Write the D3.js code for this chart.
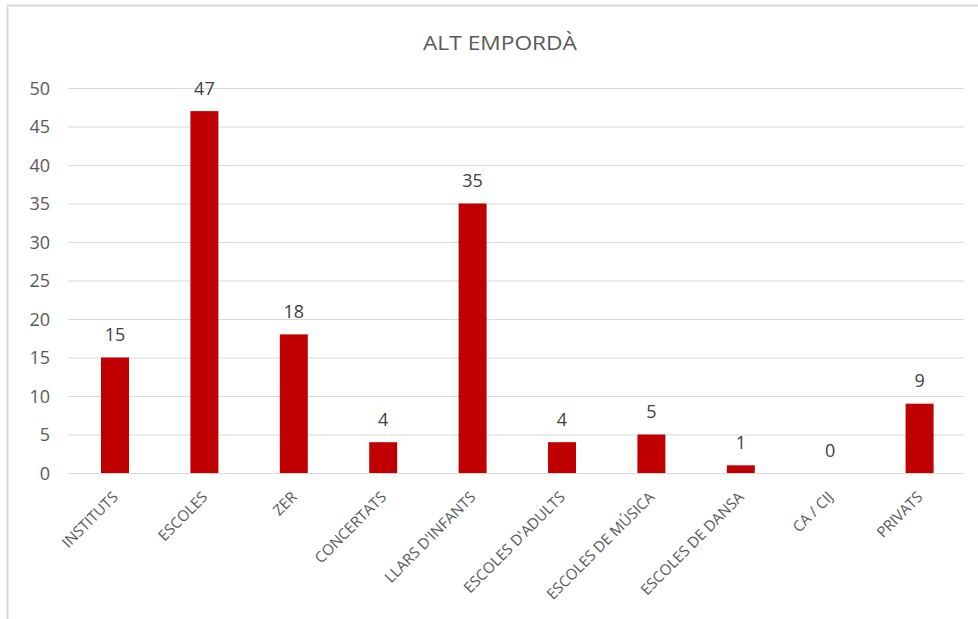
<!DOCTYPE html>
<html><head><meta charset="utf-8">
<script src="https://cdn.jsdelivr.net/npm/d3@7"></script>
<style>html,body{margin:0;padding:0;background:#fff;}svg{display:block;}</style>
</head><body>
<script>
const title = "ALT EMPORDÀ";
const categories = ["INSTITUTS","ESCOLES","ZER","CONCERTATS","LLARS D'INFANTS","ESCOLES D'ADULTS","ESCOLES DE MÚSICA","ESCOLES DE DANSA","CA / CIJ","PRIVATS"];
const values = [15,47,18,4,35,4,5,1,0,9];
const yTicks = [0,5,10,15,20,25,30,35,40,45,50];

const W = 978, H = 619;
const svg = d3.select("body").append("svg").attr("width", W).attr("height", H);
svg.append("rect").attr("x",7.5).attr("y",5.5).attr("width",W+20).attr("height",H+20)
  .attr("fill","#fff").attr("stroke","#d9d9d9").attr("stroke-width",2);

const x = d3.scaleBand().domain(categories).range([70.3, 964.3]).paddingInner(0.687).paddingOuter(0.3435);
const y = d3.scaleLinear().domain([0,50]).range([473, 88]);
const font = "'Open Sans', sans-serif";

svg.append("g").selectAll("line").data(yTicks).join("line")
  .attr("x1",68).attr("x2",964).attr("y1",d=>y(d)+0.5).attr("y2",d=>y(d)+0.5)
  .attr("stroke","#d9d9d9").attr("stroke-width",1);

const yAxis = d3.axisLeft(y).tickValues(yTicks).tickSize(0).tickPadding(0);
const ya = svg.append("g").attr("transform","translate(50,0)").call(yAxis);
ya.select(".domain").remove();
ya.selectAll("text").attr("font-family",font).attr("font-size",18).attr("fill","#595959").attr("dy","0.36em");

svg.append("g").selectAll("rect").data(values).join("rect")
  .attr("x",(d,i)=>x(categories[i])).attr("width",x.bandwidth())
  .attr("y",d=>y(d)).attr("height",d=>y(0)-y(d)).attr("fill","#c00000");

svg.append("g").selectAll("text").data(values).join("text")
  .attr("x",(d,i)=>x(categories[i])+x.bandwidth()/2).attr("y",d=>y(d)-16.5)
  .attr("text-anchor","middle").attr("font-family",font).attr("font-size",18).attr("fill","#404040")
  .text(d=>d);

const xAxis = d3.axisBottom(x).tickSize(0).tickPadding(0);
const xa = svg.append("g").attr("transform",`translate(0,${y(0)})`).call(xAxis);
xa.select(".domain").remove();
xa.selectAll("text").attr("font-family",font).attr("font-size",15).attr("fill","#595959")
  .attr("text-anchor","end").attr("dy",0).attr("y",0)
  .attr("transform","translate(4,25) rotate(-45)");

svg.append("text").attr("x",500).attr("y",50).attr("text-anchor","middle")
  .attr("font-family","'Liberation Sans Narrow', 'Open Sans', sans-serif").attr("font-size",20).attr("fill","#595959")
  .attr("textLength",154).attr("lengthAdjust","spacingAndGlyphs")
  .text(title);
</script>
</body></html>
